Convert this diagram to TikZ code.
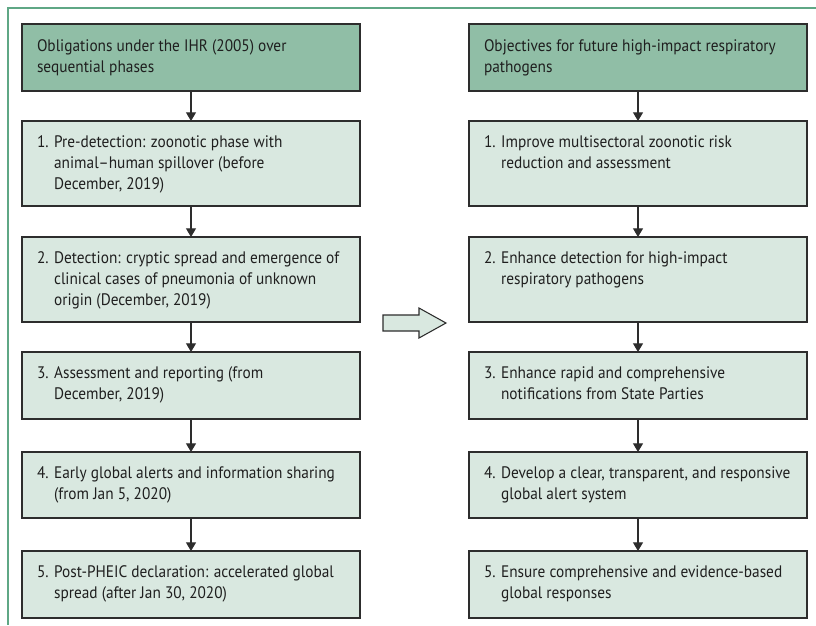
\documentclass[tikz,border=0pt]{standalone}
\usepackage{fontspec}
\setmainfont[FakeStretch=0.92]{PT Sans}
\usetikzlibrary{positioning,arrows.meta}

\definecolor{framegreen}{RGB}{95,167,133}
\definecolor{headfill}{RGB}{144,190,166}
\definecolor{stepfill}{RGB}{217,232,224}
\definecolor{edgegray}{RGB}{45,45,45}

\newcommand{\boxlines}[1]{\begin{tabular}[t]{@{}l@{}}#1\end{tabular}}
\newcommand{\numlines}[1]{\begin{tabular}[t]{@{}l@{ }l@{}}#1\end{tabular}}

\begin{document}
\begin{tikzpicture}[line join=miter,
  every node/.style={inner sep=0pt,outer sep=0pt},
  panel/.style={draw=edgegray,line width=0.9pt,minimum width=253.5pt,anchor=north},
  headbox/.style={panel,fill=headfill,minimum height=50.25pt},
  stepbox/.style={panel,fill=stepfill},
  boxtext/.style={anchor=base west,font=\fontsize{12.5}{15.75}\selectfont,text=black!88},
  flow/.style={draw=edgegray,line width=0.8pt,-{Triangle[width=7.5pt,length=6.5pt]}},
  node distance=22.5pt]
  \useasboundingbox (0,0) rectangle (612pt,-468.75pt);
  % outer frame
  \draw[framegreen,line width=1pt] (612pt,-6pt) -- (6pt,-6pt) -- (6pt,-468.75pt);

  % left column: IHR obligations
  \node[headbox] (lh) at (143.25pt,-18pt) {};
  \node[stepbox,minimum height=63.75pt,below=22.5pt of lh] (l1) {};
  \node[stepbox,minimum height=63.75pt,below=23.25pt of l1] (l2) {};
  \node[stepbox,minimum height=50.25pt,below=22.5pt of l2] (l3) {};
  \node[stepbox,minimum height=49.5pt,below=24.75pt of l3] (l4) {};
  \node[stepbox,minimum height=50.25pt,below=24.75pt of l4] (l5) {};

  % right column: objectives
  \node[headbox] (rh) at (478.5pt,-18pt) {};
  \node[stepbox,minimum height=63.75pt,below=22.5pt of rh] (r1) {};
  \node[stepbox,minimum height=63.75pt,below=23.25pt of r1] (r2) {};
  \node[stepbox,minimum height=50.25pt,below=22.5pt of r2] (r3) {};
  \node[stepbox,minimum height=49.5pt,below=24.75pt of r3] (r4) {};
  \node[stepbox,minimum height=50.25pt,below=24.75pt of r4] (r5) {};

  \foreach \col in {l,r}{
    \draw[flow] (\col h) -- (\col 1);
    \draw[flow] (\col 1) -- (\col 2);
    \draw[flow] (\col 2) -- (\col 3);
    \draw[flow] (\col 3) -- (\col 4);
    \draw[flow] (\col 4) -- (\col 5);
  }

  % texts
  \node[boxtext] (lht) at ([shift={(11.25pt,-20.25pt)}]lh.north west)
    {\boxlines{Obligations under the IHR (2005) over\\sequential phases}};
  \node[boxtext] (l1t) at ([shift={(11.25pt,-19.5pt)}]l1.north west)
    {\numlines{1. & Pre-detection: zoonotic phase with\\ & animal–human spillover (before\\ & December, 2019)}};
  \node[boxtext] (l2t) at ([shift={(11.25pt,-19.5pt)}]l2.north west)
    {\numlines{2. & Detection: cryptic spread and emergence of\\ & clinical cases of pneumonia of unknown\\ & origin (December, 2019)}};
  \node[boxtext] (l3t) at ([shift={(11.25pt,-19.5pt)}]l3.north west)
    {\numlines{3. & Assessment and reporting (from\\ & December, 2019)}};
  \node[boxtext] (l4t) at ([shift={(11.25pt,-19.5pt)}]l4.north west)
    {\numlines{4. & Early global alerts and information sharing\\ & (from Jan 5, 2020)}};
  \node[boxtext] (l5t) at ([shift={(11.25pt,-19.5pt)}]l5.north west)
    {\numlines{5. & Post-PHEIC declaration: accelerated global\\ & spread (after Jan 30, 2020)}};

  \node[boxtext] (rht) at ([shift={(11.25pt,-20.25pt)}]rh.north west)
    {\boxlines{Objectives for future high-impact respiratory\\pathogens}};
  \node[boxtext] (r1t) at ([shift={(11.25pt,-19.5pt)}]r1.north west)
    {\numlines{1. & Improve multisectoral zoonotic risk\\ & reduction and assessment}};
  \node[boxtext] (r2t) at ([shift={(11.25pt,-19.5pt)}]r2.north west)
    {\numlines{2. & Enhance detection for high-impact\\ & respiratory pathogens}};
  \node[boxtext] (r3t) at ([shift={(11.25pt,-19.5pt)}]r3.north west)
    {\numlines{3. & Enhance rapid and comprehensive\\ & notifications from State Parties}};
  \node[boxtext] (r4t) at ([shift={(11.25pt,-19.5pt)}]r4.north west)
    {\numlines{4. & Develop a clear, transparent, and responsive\\ & global alert system}};
  \node[boxtext] (r5t) at ([shift={(11.25pt,-19.5pt)}]r5.north west)
    {\numlines{5. & Ensure comprehensive and evidence-based\\ & global responses}};

  % block arrow between the columns
  \draw[draw=edgegray,fill=stepfill,line width=0.8pt]
    (287.25pt,-236.25pt) -- (314.25pt,-236.25pt) -- (314.25pt,-231pt)
    -- (334.5pt,-242.25pt) -- (314.25pt,-253.5pt) -- (314.25pt,-248.25pt)
    -- (287.25pt,-248.25pt) -- cycle;
\end{tikzpicture}
\end{document}
